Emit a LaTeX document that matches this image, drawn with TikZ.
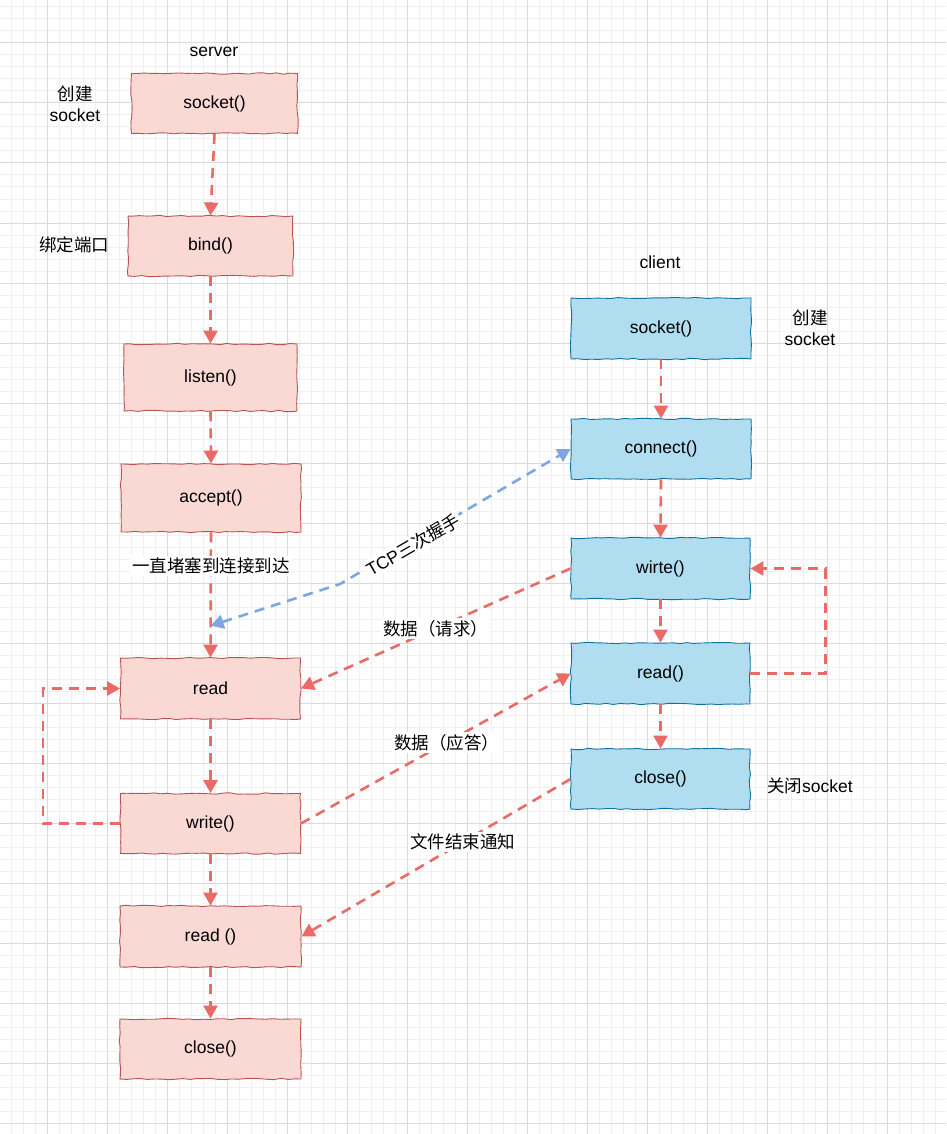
\documentclass[tikz,border=0pt]{standalone}
\usepackage{fontspec}
\setmainfont{Liberation Sans}
\newfontfamily\cjk{Noto Sans CJK SC}
\usetikzlibrary{arrows.meta,decorations.pathmorphing}
\definecolor{srvfill}{HTML}{FAD9D5}
\definecolor{srvline}{HTML}{B85450}
\definecolor{clifill}{HTML}{B1DDF0}
\definecolor{cliline}{HTML}{10739E}
\definecolor{flowred}{HTML}{EA6B66}
\definecolor{flowblue}{HTML}{7EA6E0}
\definecolor{gridminor}{HTML}{F0F0F0}
\definecolor{gridmajor}{HTML}{DADADA}
\begin{document}
\pgfmathsetseed{7}
\begin{tikzpicture}[x=1pt,y=-1pt,
  every node/.style={font=\fontsize{17.5}{21}\selectfont, inner sep=0pt},
  sketch/.style={rectangle, line width=0.9pt, decorate,
     decoration={random steps, segment length=7pt, amplitude=0.7pt}},
  srvbox/.style={sketch, fill=srvfill, draw=srvline},
  clibox/.style={sketch, fill=clifill, draw=cliline},
  flow/.style={draw=flowred, line width=2.6pt, dash pattern=on 10pt off 7pt,
     -{Triangle[length=13pt,width=14pt]}},
  bflow/.style={draw=flowblue, line width=2.6pt, dash pattern=on 10pt off 7pt,
     {Triangle[length=13pt,width=14pt]}-{Triangle[length=13pt,width=14pt]}},
  lbl/.style={fill=white, inner sep=2pt},
  minorline/.style={draw=gridminor, line width=1pt},
  majorline/.style={draw=gridmajor, line width=1pt}]
\useasboundingbox (0,0) rectangle (946,1134);
\fill[white] (0,0) rectangle (946,1134);
% grid
\foreach \x in {11,23,...,946} \draw[minorline] (\x,0) -- (\x,1134);
\foreach \y in {7,19,...,1134} \draw[minorline] (0,\y) -- (946,\y);
\foreach \x in {47,107,...,946} \draw[majorline] (\x,0) -- (\x,1134);
\foreach \y in {43,103,...,1134} \draw[majorline] (0,\y) -- (946,\y);

% server boxes
\node[srvbox, minimum width=166pt, minimum height=60pt] (s1) at (214.5,103.5) {socket()};
\node[srvbox, minimum width=165pt, minimum height=60pt] (s2) at (210.5,246) {bind()};
\node[srvbox, minimum width=173pt, minimum height=67pt] (s3) at (210.5,377.5) {listen()};
\node[srvbox, minimum width=180pt, minimum height=68pt] (s4) at (211,498) {accept()};
\node[srvbox, minimum width=180pt, minimum height=61pt] (s5) at (210.5,688.5) {read};
\node[srvbox, minimum width=180pt, minimum height=60pt] (s6) at (210.5,823.5) {write()};
\node[srvbox, minimum width=181pt, minimum height=61pt] (s7) at (210.5,936.5) {read ()};
\node[srvbox, minimum width=181pt, minimum height=60pt] (s8) at (210.5,1049) {close()};

% client boxes
\node[clibox, minimum width=180pt, minimum height=61pt] (c1) at (661,328.5) {socket()};
\node[clibox, minimum width=180pt, minimum height=60pt] (c2) at (661,449) {connect()};
\node[clibox, minimum width=179pt, minimum height=61pt] (c3) at (660.5,568.5) {wirte()};
\node[clibox, minimum width=179pt, minimum height=61pt] (c4) at (660.5,673.5) {read()};
\node[clibox, minimum width=179pt, minimum height=60pt] (c5) at (660.5,779) {close()};

% free labels
\node (lserver) at (214,52) {server};
\node[align=center] (lcreate1) at (75,104) {{\cjk 创建}\\socket};
\node (lbind) at (74,245) {\cjk 绑定端口};
\node (lclient) at (660,262) {client};
\node[align=center] (lcreate2) at (810,328) {{\cjk 创建}\\socket};
\node (lclose) at (810,786) {{\cjk 关闭}socket};

% server chain
\draw[flow] (s1.south) -- (s2.north);
\draw[flow] (s2.south) -- (s3.north);
\draw[flow] (s3.south) -- (s4.north);
\draw[flow] (s4.south) -- coordinate[pos=0.746] (tcpend) node[lbl,pos=0.27] {\cjk 一直堵塞到连接到达} (s5.north);
\draw[flow] (s5.south) -- (s6.north);
\draw[flow] (s6.south) -- (s7.north);
\draw[flow] (s7.south) -- (s8.north);
\draw[flow] (s6.west) -- ++(-77,0) |- (s5.west);

% client chain
\draw[flow] (c1.south) -- (c2.north);
\draw[flow] (c2.south) -- (c3.north);
\draw[flow] (c3.south) -- (c4.north);
\draw[flow] (c4.south) -- (c5.north);
\draw[flow] (c4.east) -- ++(75,0) |- (c3.east);

% cross messages
\draw[flow] (c3.west) -- node[lbl,pos=0.5] {\cjk 数据（请求）} (s5.east);
\draw[flow] (s6.east) -- node[lbl,pos=0.54] {\cjk 数据（应答）} (c4.west);
\draw[flow] (c5.west) -- node[lbl,pos=0.4] {\cjk 文件结束通知} (s7.east);

% TCP handshake
\coordinate (tcpbend) at (340,584);
\draw[bflow] (tcpend) -- (tcpbend) -- (c2.west);
\node[lbl, rotate=30] (ltcp) at (413,545) {TCP{\cjk 三次握手}};
\end{tikzpicture}
\end{document}
